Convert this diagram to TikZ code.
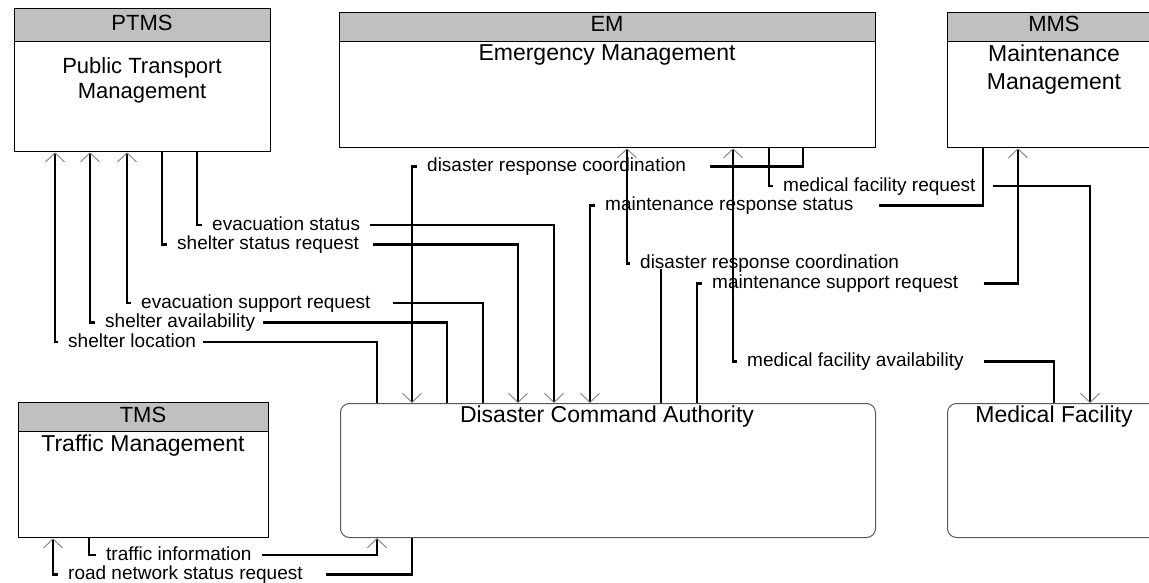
\documentclass[tikz,border=0pt]{standalone}
\usepackage{fontspec}
\setmainfont{Liberation Sans}
\usetikzlibrary{arrows.meta}
\definecolor{hdrgray}{RGB}{192,192,192}
\definecolor{tipgray}{RGB}{128,128,128}
\tikzset{
  hdr/.style={draw=black, line width=1.3pt, fill=hdrgray, inner sep=0pt, anchor=north west},
  bodybox/.style={draw=black, line width=1.3pt, fill=white, inner sep=0pt, anchor=north west},
  rbox/.style={draw=black!65, line width=1pt, rounded corners=9pt, inner sep=0pt, anchor=north west},
  ttl/.style={anchor=base, inner sep=0pt, font=\fontsize{23pt}{26pt}\selectfont},
  htxt/.style={anchor=base, inner sep=0pt, font=\fontsize{22pt}{26pt}\selectfont},
  lbl/.style={anchor=west, inner xsep=10pt, inner ysep=0pt, text height=10pt, text depth=0pt, font=\fontsize{19pt}{22pt}\selectfont},
  conn/.style={line width=2.2pt, draw=black},
  arr/.style={-{Straight Barb[length=9pt 0 0, width=19pt 0 0, line width=0.9pt 0 0, color=tipgray]}},
}
\begin{document}
\begin{tikzpicture}[x=1pt,y=-1pt]
\useasboundingbox (0,0) rectangle (1149,583);
\clip (0,0) rectangle (1149,583);
% PTMS
\node[hdr, minimum width=256pt, minimum height=33pt] (ptmsH) at (14,8) {};
\node[bodybox, minimum width=256pt, minimum height=110pt] (ptms) at (14,41) {};
\node[htxt] (ptmsA) at (142,31) {PTMS};
\node[htxt] (ptmsB) at (142,74) {Public Transport};
\node[htxt] (ptmsC) at (142,99) {Management};
% EM
\node[hdr, minimum width=536pt, minimum height=29pt] (emH) at (339,12) {};
\node[bodybox, minimum width=536pt, minimum height=106pt] (em) at (339,41) {};
\node[htxt] (emA) at (607,32) {EM};
\node[ttl] (emB) at (607,61) {Emergency Management};
% MMS
\node[hdr, minimum width=214pt, minimum height=29pt] (mmsH) at (947,12) {};
\node[bodybox, minimum width=214pt, minimum height=106pt] (mms) at (947,41) {};
\node[htxt] (mmsA) at (1054,32) {MMS};
\node[ttl] (mmsB) at (1054,62) {Maintenance};
\node[ttl] (mmsC) at (1054,90) {Management};
% TMS
\node[hdr, minimum width=250pt, minimum height=29pt] (tmsH) at (18,402) {};
\node[bodybox, minimum width=250pt, minimum height=106pt] (tms) at (18,431) {};
\node[htxt] (tmsA) at (143,422) {TMS};
\node[ttl] (tmsB) at (143,451) {Traffic Management};
% DCA
\node[rbox, minimum width=535pt, minimum height=134pt] (dca) at (340,403) {};
\node[ttl] (dcaA) at (607,422) {Disaster Command Authority};
% Medical Facility
\node[rbox, minimum width=214pt, minimum height=134pt] (mf) at (947,403) {};
\node[ttl] (mfA) at (1054,422) {Medical Facility};
% labels
\node[lbl] (l1) at (202,225) {evacuation status};
\node[lbl] (l2) at (167,244.5) {shelter status request};
\node[lbl] (l3) at (131,303) {evacuation support request};
\node[lbl] (l4) at (95,322.5) {shelter availability};
\node[lbl] (l5) at (58,342) {shelter location};
\node[lbl] (l6) at (417,166.5) {disaster response coordination};
\node[lbl] (l7) at (773,186) {medical facility request};
\node[lbl] (l8) at (595,205.5) {maintenance response status};
\node[lbl] (l9) at (630,263.5) {disaster response coordination};
\node[lbl] (l10) at (702,283.5) {maintenance support request};
\node[lbl] (l11) at (737,361.5) {medical facility availability};
\node[lbl] (l12) at (96,555) {traffic information};
\node[lbl] (l13) at (58,574.5) {road network status request};
% connectors
\draw[conn] (ptms.south -| 197,0) |- (l1.west);
\draw[conn,arr] ([xshift=0pt]l1.east) -| (dca.north -| 554,0);
\draw[conn] (ptms.south -| 162,0) |- (l2.west);
\draw[conn,arr] ([xshift=4pt]l2.east) -| (dca.north -| 518,0);
\draw[conn] (dca.north -| 483,0) |- ([xshift=12pt]l3.east);
\draw[conn,arr] (l3.west) -| (ptms.south -| 127,0);
\draw[conn] (dca.north -| 447,0) |- ([xshift=-2pt]l4.east);
\draw[conn,arr] (l4.west) -| (ptms.south -| 90,0);
\draw[conn] (dca.north -| 377,0) |- ([xshift=-3pt]l5.east);
\draw[conn,arr] (l5.west) -| (ptms.south -| 55,0);
\draw[conn] (em.south -| 803,0) |- ([xshift=14pt]l6.east);
\draw[conn,arr] (l6.west) -| (dca.north -| 412,0);
\draw[conn] (em.south -| 769,0) |- (l7.west);
\draw[conn,arr] ([xshift=7pt]l7.east) -| (mf.north -| 1090,0);
\draw[conn] (mms.south -| 983,0) |- ([xshift=15pt]l8.east);
\draw[conn,arr] (l8.west) -| (dca.north -| 590,0);
\draw[conn] (dca.north -| 661,0) -- (l9.south -| 661,0);
\draw[conn,arr] (l9.west) -| (em.south -| 627,0);
\draw[conn] (dca.north -| 697,0) |- (l10.west);
\draw[conn,arr] ([xshift=15pt]l10.east) -| (mms.south -| 1018,0);
\draw[conn] (mf.north -| 1054,0) |- ([xshift=10pt]l11.east);
\draw[conn,arr] (l11.west) -| (em.south -| 733,0);
\draw[conn] (tms.south -| 89,0) |- (l12.west);
\draw[conn,arr] (l12.east) -| (dca.south -| 377,0);
\draw[conn] (dca.south -| 412,0) |- ([xshift=13pt]l13.east);
\draw[conn,arr] (l13.west) -| (tms.south -| 53,0);
\end{tikzpicture}
\end{document}
